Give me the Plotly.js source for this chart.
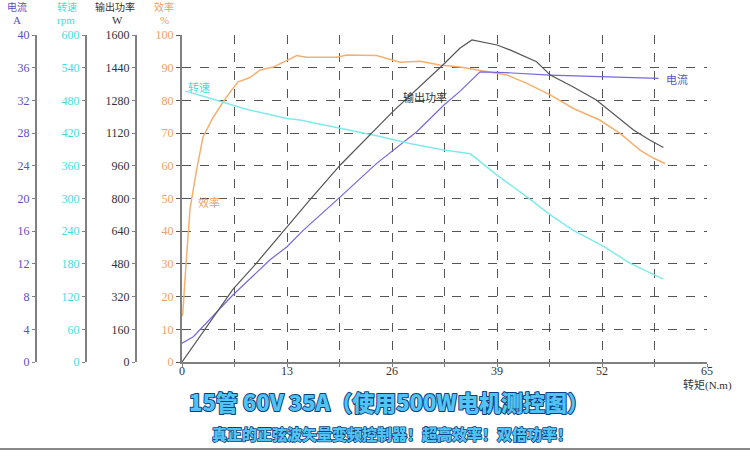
<!DOCTYPE html>
<html><head><meta charset="utf-8">
<script src="https://cdn.plot.ly/plotly-3.0.1.min.js"></script>
<style>html,body{margin:0;padding:0;background:#fff;}</style>
</head><body>
<div id="chart" style="width:750px;height:457px;"></div>
<script>
// Torque (N.m) sample points per curve
const torqueEff = [0, 0.1, 0.5, 1.0, 1.8, 2.6, 3.9, 5.5, 6.9, 8.4, 9.7, 11.3, 14.2, 15.4, 19.2, 20.4, 24.1, 27, 29.5, 31.9, 34.4, 36.5, 40.2, 42.7, 45.6, 48.4, 51.7, 54.2, 56.7, 58.4, 59.8];
const efficiency = [14, 15, 30, 47, 58.7, 68.8, 75, 81, 85.6, 87, 89.3, 90.2, 93.7, 93.2, 93.2, 93.9, 93.7, 91.7, 92, 90.8, 90.2, 89.3, 87.8, 85.2, 81.7, 77.6, 74, 70, 64.8, 62.3, 60.7];

const torquePow = [0, 6.3, 9.2, 13, 15.8, 19.6, 23.3, 26.1, 32.3, 34.4, 35.9, 39, 40.6, 43.9, 45.6, 48.4, 51.3, 53.4, 55.9, 57.9, 59.6];
const power = [0, 355, 483, 662, 792, 964, 1110, 1225, 1453, 1535, 1576, 1551, 1527, 1469, 1404, 1347, 1282, 1216, 1135, 1086, 1050];

const torqueCur = [0, 1.4, 6.3, 10.9, 13, 15, 19.6, 24.1, 29.1, 32.4, 34.4, 36.9, 40, 45.6, 51.7, 58.4, 59];
const current = [2.3, 3.1, 8.2, 12.5, 14.1, 16.1, 20.2, 24.3, 28.2, 31.4, 33.1, 35.5, 35.4, 35.1, 34.9, 34.8, 34.7];

const torqueSpd = [0.4, 3.5, 7.6, 13, 14.6, 19.6, 24.1, 28.2, 32.4, 35.7, 39, 42.7, 45.6, 48.4, 52.2, 55.5, 58.4, 59.6];
const speed = [497, 484, 465, 447, 444, 429, 415, 401, 389, 382, 343, 303, 270, 242, 212, 181, 160, 152];

const xTicks = [0, 13, 26, 39, 52, 65];
const title1 = "15管 60V 35A（使用500W电机测控图）";
const title2 = "真正的正弦波矢量变频控制器！超高效率！双倍功率！";

const CUR_C = "#5a4fc0", SPD_C = "#3fdede", POW_C = "#333333", EFF_C = "#f0a060";
const SERIF = "Liberation Serif, Noto Sans CJK SC, serif";
const CJK = "Noto Sans CJK SC, sans-serif";
const W = 707; // plot area width (margin.l = 0)
const px = v => v / W;
const py = v => (362 - v) / 327;

const traces = [
  {x: torqueEff, y: efficiency, yaxis: "y", mode: "lines", line: {color: "#f5b070", width: 1.5}, hoverinfo: "skip"},
  {x: torquePow, y: power, yaxis: "y4", mode: "lines", line: {color: "#555555", width: 1.2}, hoverinfo: "skip"},
  {x: torqueCur, y: current, yaxis: "y2", mode: "lines", line: {color: "#7468e0", width: 1.2}, hoverinfo: "skip"},
  {x: torqueSpd, y: speed, yaxis: "y3", mode: "lines", line: {color: "#80eaea", width: 1.5}, hoverinfo: "skip"}
];

const sideAxis = (pos, max, dt, color) => ({
  overlaying: "y", anchor: "free", position: pos, side: "left",
  range: [0, max], dtick: dt, tick0: 0, showgrid: false, zeroline: false,
  showline: true, linecolor: "#808080", linewidth: 2,
  ticks: "outside", ticklen: 3, tickcolor: "#808080",
  tickfont: {family: SERIF, size: 12, color: color}, automargin: false
});

const ann = (text, x, y, color, size, xref, yref, extra) => Object.assign({
  text: text, x: x, y: y, xref: xref || "paper", yref: yref || "paper",
  showarrow: false, xanchor: "center", yanchor: "middle",
  font: {family: CJK, size: size || 11, color: color}
}, extra || {});

const layout = {
  width: 750, height: 457,
  margin: {l: 0, r: 43, t: 35, b: 95},
  paper_bgcolor: "#ffffff", plot_bgcolor: "#ffffff",
  showlegend: false,
  xaxis: {
    domain: [182 / W, 1], range: [0, 65], tickvals: xTicks,
    showline: true, linecolor: "#808080", linewidth: 2,
    ticks: "outside", ticklen: 3, tickcolor: "#808080", ticklabelstandoff: -6,
    showgrid: true, gridcolor: "#555555", griddash: "dash", gridwidth: 1,
    minor: {dtick: 6.5, tick0: 0, showgrid: true, gridcolor: "#555555", griddash: "dash", gridwidth: 1, ticks: "outside", ticklen: 3, tickcolor: "#808080"},
    zeroline: false, tickfont: {family: SERIF, size: 12, color: "#333"}, automargin: false
  },
  yaxis: {
    range: [0, 100], dtick: 10, tick0: 0, anchor: "x",
    showline: true, linecolor: "#808080", linewidth: 2,
    ticks: "outside", ticklen: 4, tickcolor: "#555",
    showgrid: true, gridcolor: "#555555", griddash: "dash", gridwidth: 1,
    zeroline: false, tickfont: {family: SERIF, size: 12, color: EFF_C}, automargin: false
  },
  yaxis2: sideAxis(36 / W, 40, 4, CUR_C),
  yaxis3: sideAxis(86 / W, 600, 60, SPD_C),
  yaxis4: sideAxis(136 / W, 1600, 160, POW_C),
  annotations: [
    ann("电流", px(17), py(6), CUR_C, 10),
    ann("A", px(17), py(20), CUR_C, 10, null, null, {font: {family: SERIF, size: 11, color: CUR_C}}),
    ann("转速", px(67), py(6), SPD_C, 10),
    ann("rpm", px(66), py(20), SPD_C, 10, null, null, {font: {family: SERIF, size: 11, color: SPD_C}}),
    ann("输出功率", px(115), py(6), POW_C, 10),
    ann("W", px(117), py(20), POW_C, 10, null, null, {font: {family: SERIF, size: 11, color: POW_C}}),
    ann("效率", px(164), py(6), EFF_C, 10),
    ann("%", px(164), py(20), EFF_C, 10, null, null, {font: {family: SERIF, size: 11, color: EFF_C}}),
    ann("转速", 2.1, 84.1, SPD_C, 11, "x", "y"),
    ann("效率", 3.4, 48.9, EFF_C, 11, "x", "y"),
    ann("输出功率", 30.1, 81, POW_C, 11, "x", "y"),
    ann("电流", 61.3, 86.5, CUR_C, 11, "x", "y"),
    ann("转矩(N.m)", 65, py(385), "#333", 10, "x", "paper", {font: {family: SERIF, size: 11, color: "#333"}}),
    ann(title1, px(389), py(401), "#52c4f4", 22, null, null, {font: {family: CJK, size: 22, color: "#52c4f4", weight: 900}}),
    ann(title2, px(392), py(433), "#52c4f4", 15, null, null, {font: {family: CJK, size: 15, color: "#52c4f4", weight: 900}})
  ],
  shapes: [
    {type: "line", xref: "paper", yref: "paper", x0: 0, x1: 750 / W, y0: py(449), y1: py(449), line: {color: "#888888", width: 2}}
  ]
};

Plotly.newPlot("chart", traces, layout, {displayModeBar: false, staticPlot: true}).then(() => {
  document.querySelectorAll(".annotation-text").forEach(el => {
    const t = el.textContent;
    if (t === title1 || t === title2) {
      el.style.stroke = "#0d3f80";
      el.style.strokeWidth = t === title1 ? "2px" : "1.6px";
      el.style.paintOrder = "stroke";
      el.style.strokeLinejoin = "round";
    }
  });
});
</script>
</body></html>
